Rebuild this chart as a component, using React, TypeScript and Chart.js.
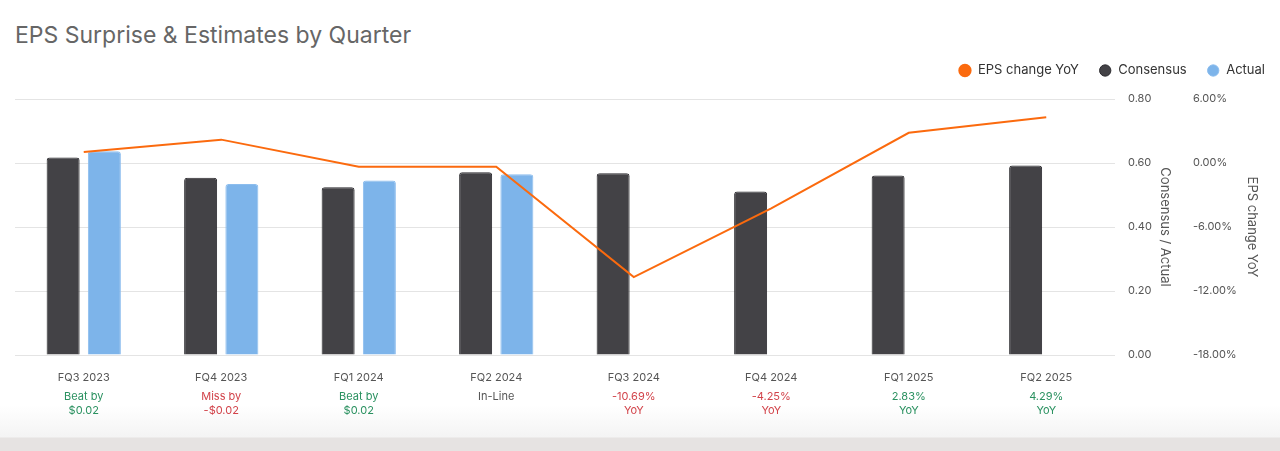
import React, { useEffect, useRef } from "react";
import { Chart, registerables } from "chart.js";

Chart.register(...registerables);

const quarters = ["FQ3 2023", "FQ4 2023", "FQ1 2024", "FQ2 2024", "FQ3 2024", "FQ4 2024", "FQ1 2025", "FQ2 2025"];
const consensus = [0.617, 0.554, 0.524, 0.571, 0.568, 0.511, 0.561, 0.592];
const actual = [0.637, 0.534, 0.545, 0.565, null, null, null, null];
const epsChangeYoY = [1.03, 2.19, -0.34, -0.34, -10.69, -4.25, 2.83, 4.29];
const surpriseLine1 = ["Beat by", "Miss by", "Beat by", "In-Line", "-10.69%", "-4.25%", "2.83%", "4.29%"];
const surpriseLine2 = ["$0.02", "-$0.02", "$0.02", "", "YoY", "YoY", "YoY", "YoY"];
const surpriseTone = ["beat", "miss", "beat", "inline", "miss", "miss", "beat", "beat"];
const leftTicks = [0, 0.2, 0.4, 0.6, 0.8];
const rightTicks = [-18, -12, -6, 0, 6];

const FONT = "Inter, Roboto, 'Noto Sans', sans-serif";
const toneColor: Record<string, string> = { beat: "#2a9160", miss: "#d2434a", inline: "#555555" };

const surprisePlugin = {
  id: "surpriseLabels",
  afterDraw(chart: any) {
    const ctx = chart.ctx;
    const xs = chart.scales.x;
    const base = chart.chartArea.bottom;
    ctx.save();
    ctx.font = `11px ${FONT}`;
    ctx.textAlign = "center";
    ctx.textBaseline = "middle";
    quarters.forEach((_, i) => {
      const x = xs.getPixelForValue(i);
      ctx.fillStyle = toneColor[surpriseTone[i]];
      ctx.fillText(surpriseLine1[i], x, base + 42);
      if (surpriseLine2[i]) ctx.fillText(surpriseLine2[i], x, base + 55.5);
    });
    ctx.restore();
  },
};

const legendGapPlugin = {
  id: "legendGap",
  beforeInit(chart: any) {
    const legend = chart.legend;
    if (!legend) return;
    const origFit = legend.fit;
    legend.fit = function () {
      origFit.call(this);
      this.height += 12;
    };
  },
};

export default function App() {
  const ref = useRef<HTMLCanvasElement | null>(null);
  useEffect(() => {
    if (!ref.current) return;
    const chart = new Chart(ref.current, {
      type: "bar",
      data: {
        labels: quarters,
        datasets: [
          {
            type: "line",
            label: "EPS change YoY",
            data: epsChangeYoY,
            yAxisID: "y2",
            borderColor: "#fb6a0e",
            backgroundColor: "#fb6a0e",
            borderWidth: 2,
            pointRadius: 0,
            pointHoverRadius: 0,
            tension: 0,
          } as any,
          {
            type: "bar",
            label: "Consensus",
            data: consensus,
            yAxisID: "y1",
            backgroundColor: "#434246",
            borderColor: "#2b2a2e",
            borderWidth: 1,
            borderRadius: 3,
            categoryPercentage: 0.6,
            barPercentage: 0.8,
          },
          {
            type: "bar",
            label: "Actual",
            data: actual,
            yAxisID: "y1",
            backgroundColor: "#7db4ea",
            borderColor: "#8cbdee",
            borderWidth: 1,
            borderRadius: 3,
            categoryPercentage: 0.6,
            barPercentage: 0.8,
          },
        ],
      },
      options: {
        responsive: true,
        maintainAspectRatio: false,
        animation: false,
        layout: { padding: { left: 15, right: 0, top: 44, bottom: 56 } },
        plugins: {
          tooltip: { enabled: false },
          title: { display: false },
          legend: {
            display: true,
            position: "top",
            align: "end",
            labels: {
              usePointStyle: true,
              pointStyle: "circle",
              boxWidth: 13,
              boxHeight: 8,
              padding: 20,
              color: "#333333",
              font: { family: FONT, size: 13 },
            },
          },
        },
        scales: {
          x: {
            grid: { display: false, drawTicks: false },
            border: { display: false },
            ticks: { color: "#555555", font: { family: FONT, size: 11 }, padding: 16, maxRotation: 0 },
            afterFit(scale: any) {
              scale.height = 40;
            },
          },
          y1: {
            position: "right",
            min: 0,
            max: 0.8,
            afterBuildTicks(scale: any) {
              scale.ticks = leftTicks.map((v) => ({ value: v }));
            },
            grid: { color: "#e4e4e4", drawTicks: false, lineWidth: 1 },
            border: { display: false },
            ticks: {
              color: "#555555",
              font: { family: FONT, size: 11 },
              padding: 13,
              callback: (v: any) => Number(v).toFixed(2),
            },
            title: {
              display: true,
              text: "Consensus / Actual",
              color: "#555555",
              font: { family: FONT, size: 13 },
              padding: { top: 7, bottom: 0 },
            },
            afterFit(scale: any) {
              scale.width = 65;
            },
          },
          y2: {
            position: "right",
            min: -18,
            max: 6,
            afterBuildTicks(scale: any) {
              scale.ticks = rightTicks.map((v) => ({ value: v }));
            },
            grid: { display: false, drawTicks: false },
            border: { display: false },
            ticks: {
              color: "#555555",
              font: { family: FONT, size: 11 },
              padding: 13,
              callback: (v: any) => Number(v).toFixed(2) + "%",
            },
            title: {
              display: true,
              text: "EPS change YoY",
              color: "#555555",
              font: { family: FONT, size: 13 },
              padding: { top: 25, bottom: 0 },
            },
            afterFit(scale: any) {
              scale.width = 105;
            },
          },
        },
      },
      plugins: [surprisePlugin, legendGapPlugin],
    });
    return () => chart.destroy();
  }, []);

  return (
    <div
      style={{
        position: "absolute",
        left: 0,
        top: 0,
        width: 1280,
        height: 451,
        overflow: "hidden",
        background:
          "linear-gradient(to bottom, #ffffff 0px, #ffffff 405px, #f4f4f4 437px, #e6e3e2 438px, #e6e3e2 451px)",
      }}
    >
      <div
        style={{
          position: "absolute",
          left: 15,
          top: 23,
          fontFamily: FONT,
          fontSize: 23,
          lineHeight: "24px",
          color: "#666666",
          whiteSpace: "nowrap",
        }}
      >
        EPS Surprise &amp; Estimates by Quarter
      </div>
      <div style={{ position: "absolute", left: 0, top: 0, width: 1285, height: 451 }}>
        <canvas ref={ref} />
      </div>
    </div>
  );
}
